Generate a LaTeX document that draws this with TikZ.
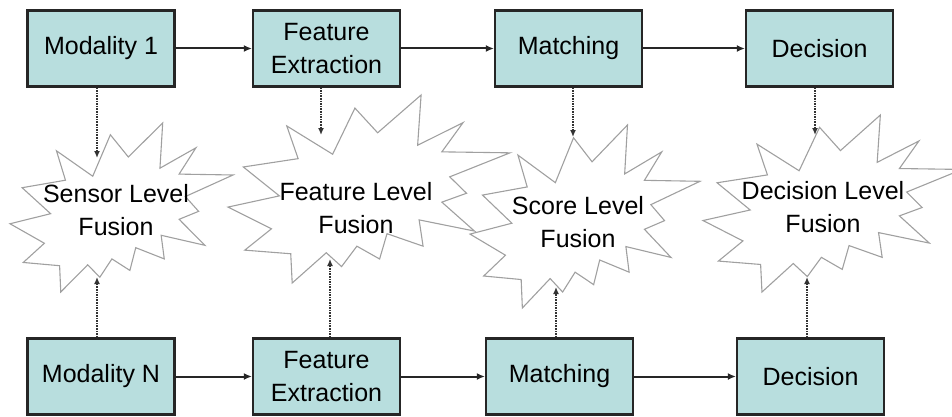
\documentclass[tikz,border=0pt]{standalone}
\usepackage{fontspec}
\setmainfont{Liberation Sans}
\usetikzlibrary{arrows.meta}
\definecolor{boxfill}{RGB}{184,222,222}
\definecolor{burstline}{RGB}{160,160,160}
% Explosion outline fitted into the box with top-left (#1,#2), width #3, height #4
\newcommand\explosionburst[4]{%
  \begin{scope}[shift={(#1,#2)}, xscale=#3/216, yscale=#4/216]
    \draw[burstedge] (114.62,43.42) -- (147.90,0) -- (145.25,57.77) -- (180.07,31.72)
      -- (163.80,65.32) -- (216,66.45) -- (169.85,94.02) -- (182.70,112.90)
      -- (163.80,123.10) -- (188.77,156.32) -- (146.40,143.50) -- (149.42,173.70)
      -- (121.80,159.35) -- (116.12,188.42) -- (98.72,173.70) -- (87.00,197.12)
      -- (75.27,181.25) -- (49.17,216) -- (48.05,182.40) -- (12.85,178.25)
      -- (33.30,153.70) -- (0,128.77) -- (39.35,115.92) -- (11.72,82.70)
      -- (53.72,73.12) -- (45.02,35.55) -- (80.15,68.05) -- (97.22,15.05) -- cycle;
  \end{scope}}
\begin{document}
\begin{tikzpicture}[x=1pt,y=-1pt,
  blk/.style={draw=black!85, line width=2.2pt, fill=boxfill, minimum width=147pt, minimum height=76pt, inner sep=0pt, align=center, font=\fontsize{25}{33}\selectfont},
  flow/.style={draw=black!85, line width=2pt, -{Latex[length=8pt,width=7pt]}},
  feed/.style={draw=black!80, line width=1.6pt, densely dotted, -{Latex[length=7pt,width=6pt]}},
  burstedge/.style={draw=burstline, line width=1.1pt, line join=miter},
  lbl/.style={align=center, inner sep=0pt, font=\fontsize{25}{33}\selectfont}
]
\path[use as bounding box] (0,0) rectangle (952,417);

% fusion bursts
\explosionburst{10}{123}{223}{169}
\explosionburst{228}{95}{282}{188}
\explosionburst{470}{125}{230}{183}
\explosionburst{703}{115}{259}{177}

\node[lbl] (st) at (116,210) {Sensor Level\\Fusion};
\node[lbl] (ft) at (356,208) {Feature Level\\Fusion};
\node[lbl] (sct) at (578,222) {Score Level\\Fusion};
\node[lbl] (dt) at (823,207) {Decision Level\\Fusion};

% top row
\node[blk] (m1) at (101,48.5) {Modality 1};
\node[blk] (f1) at (326.5,48.5) {Feature\\Extraction};
\node[blk] (ma1) at (568.5,48.5) {Matching};
\node[blk] (d1) at (819.5,48.5) {Decision};

% bottom row
\node[blk] (mn) at (101,376.5) {Modality N};
\node[blk] (fn) at (326.5,376.5) {Feature\\Extraction};
\node[blk] (man) at (559.5,376.5) {Matching};
\node[blk] (dn) at (810.5,376.5) {Decision};

\draw[flow] (m1) -- (f1);
\draw[flow] (f1) -- (ma1);
\draw[flow] (ma1) -- (d1);
\draw[flow] (mn) -- (fn);
\draw[flow] (fn) -- (man);
\draw[flow] (man) -- (dn);

% arrow end points on the burst outlines
\coordinate (sbt) at (97,158);
\coordinate (fbt) at (321,135);
\coordinate (scbt) at (573,137);
\coordinate (dbt) at (815,135);
\coordinate (sbb) at (97,277);
\coordinate (fbb) at (330,259);
\coordinate (scbb) at (556,287);
\coordinate (dbb) at (807,277);

\draw[feed] (m1.south -| sbt) -- (sbt);
\draw[feed] (f1.south -| fbt) -- (fbt);
\draw[feed] (ma1.south -| scbt) -- (scbt);
\draw[feed] (d1.south -| dbt) -- (dbt);
\draw[feed] (mn.north -| sbb) -- (sbb);
\draw[feed] (fn.north -| fbb) -- (fbb);
\draw[feed] (man.north -| scbb) -- (scbb);
\draw[feed] (dn.north -| dbb) -- (dbb);
\end{tikzpicture}
\end{document}
